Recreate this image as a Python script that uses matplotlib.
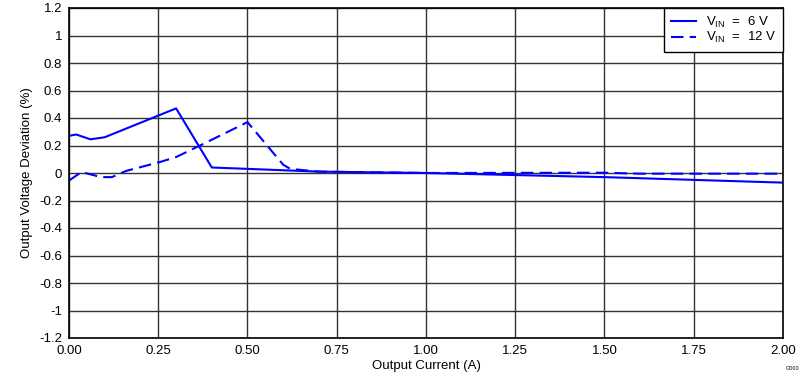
import numpy as np
import matplotlib.pyplot as plt

plt.rcParams['font.family'] = ['Liberation Sans', 'DejaVu Sans']

# Output current (A) and deviation (%)
x_6v = [0.0, 0.02, 0.06, 0.1, 0.3, 0.4, 0.5, 0.6, 0.7, 1.0, 1.25, 1.5, 1.75, 2.0]
y_6v = [0.27, 0.28, 0.245, 0.26, 0.47, 0.04, 0.03, 0.02, 0.01, 0.0, -0.015, -0.03, -0.05, -0.07]

x_12v = [0.0, 0.035, 0.09, 0.12, 0.16, 0.255, 0.3, 0.375, 0.5, 0.6, 0.62, 0.7, 1.0, 1.5, 1.6, 2.0]
y_12v = [-0.055, 0.007, -0.03, -0.03, 0.015, 0.08, 0.116, 0.21, 0.37, 0.06, 0.03, 0.01, 0.0, 0.002, -0.005, -0.005]

xticks = [0.0, 0.25, 0.5, 0.75, 1.0, 1.25, 1.5, 1.75, 2.0]
xlabels = ['0.00', '0.25', '0.50', '0.75', '1.00', '1.25', '1.50', '1.75', '2.00']
yticks = [1.2, 1.0, 0.8, 0.6, 0.4, 0.2, 0.0, -0.2, -0.4, -0.6, -0.8, -1.0, -1.2]
ylabels = ['1.2', '1', '0.8', '0.6', '0.4', '0.2', '0', '-0.2', '-0.4', '-0.6', '-0.8', '-1', '-1.2']

fig = plt.figure(figsize=(8.03, 3.82), dpi=100)
ax = fig.add_axes([69 / 803, 1 - 338 / 382, (783 - 69) / 803, (338 - 8) / 382])

ax.plot(x_6v, y_6v, color='#0000ff', linewidth=1.5, label=r'V$_\mathregular{IN}$  =  6 V')
ax.plot(x_12v, y_12v, color='#0000ff', linewidth=1.5, linestyle=(0, (6, 3)),
        label=r'V$_\mathregular{IN}$  =  12 V')

ax.set_xlim(0, 2)
ax.set_ylim(-1.2, 1.2)
ax.set_xticks(xticks)
ax.set_xticklabels(xlabels)
ax.set_yticks(yticks)
ax.set_yticklabels(ylabels)
ax.tick_params(axis='x', labelsize=9.5, length=0, pad=5)
ax.tick_params(axis='y', labelsize=9.5, length=0, pad=5)
ax.grid(True, color='#333333', linewidth=1)
ax.set_axisbelow(True)
for s in ax.spines.values():
    s.set_color('black')
    s.set_linewidth(1.2)

ax.set_xlabel('Output Current (A)', fontsize=9.5, labelpad=2)
ax.set_ylabel('Output Voltage Deviation (%)', fontsize=9.5, labelpad=4)

leg = ax.legend(loc='upper right', fontsize=9.5, frameon=True, fancybox=False,
                borderaxespad=0, handlelength=1.9, handletextpad=0.8,
                labelspacing=0.05, borderpad=0.5)
leg.get_frame().set_edgecolor('black')
leg.get_frame().set_linewidth(1)
leg.get_frame().set_alpha(1)

fig.text(0.995, 0.03, 'G000', fontsize=4, ha='right', va='bottom')

fig.savefig('out.png', dpi=100)
